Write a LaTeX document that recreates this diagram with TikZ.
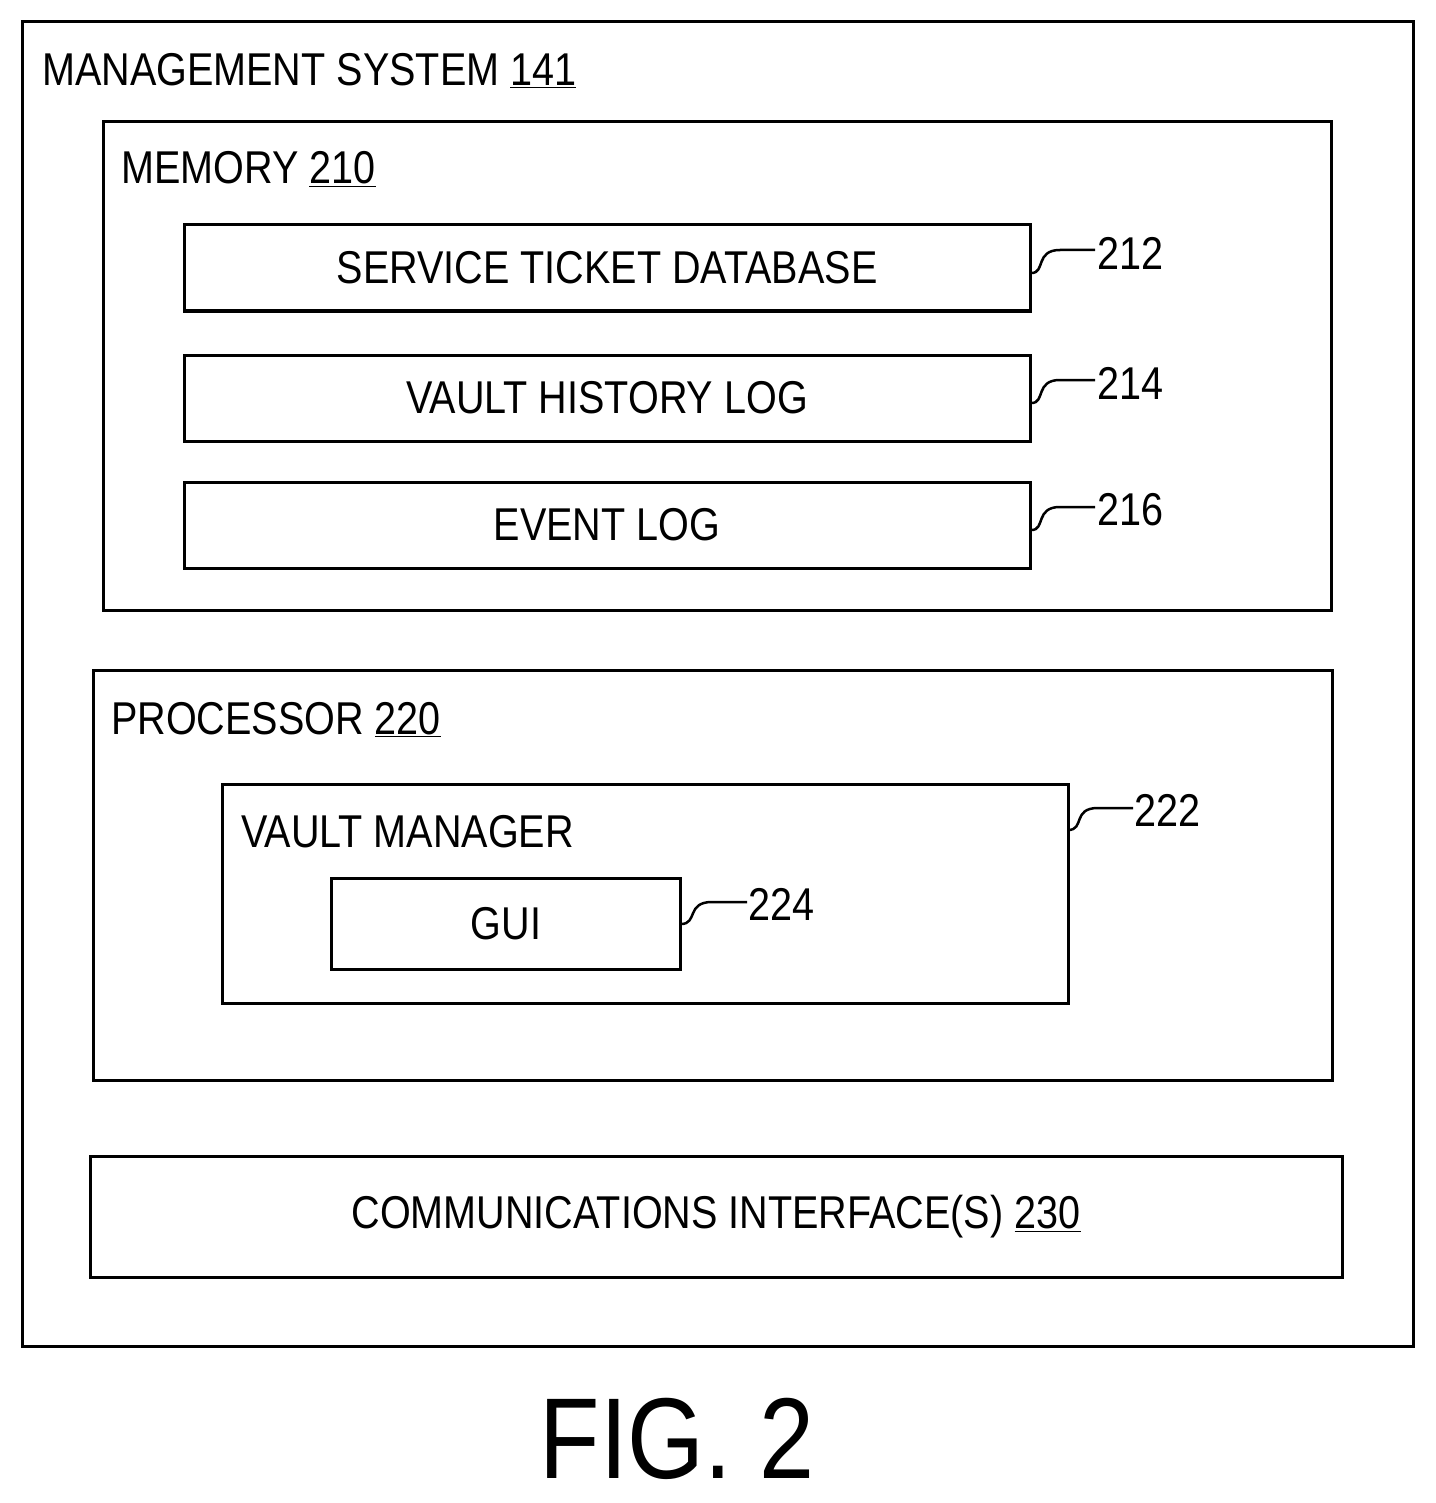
\documentclass[tikz,border=0pt]{standalone}
\usepackage{fontspec}
\setmainfont{Liberation Sans}[FakeStretch=0.86]
\begin{document}
\begin{tikzpicture}[x=1pt,y=-1pt,
  box/.style={draw,line width=3pt},
  lbl/.style={font=\fontsize{46}{50}\selectfont,inner sep=0pt},
  lead/.style={line width=2.5pt}]
\useasboundingbox (0,0) rectangle (1435,1503);
\draw[box] (22,22) rectangle (1413,1346);
\node[lbl,anchor=base west] (t141) at (42,86) {MANAGEMENT SYSTEM \underline{141}};
\draw[box] (103,122) rectangle (1331,610);
\node[lbl,anchor=base west] (t210) at (121,184) {MEMORY \underline{210}};
\node[box,minimum width=846pt,minimum height=86pt,lbl] (std) at (607,268) {SERVICE TICKET DATABASE};
\node[box,minimum width=846pt,minimum height=86pt,lbl] (vhl) at (607,398) {VAULT HISTORY LOG};
\node[box,minimum width=846pt,minimum height=86pt,lbl] (evl) at (607,525) {EVENT LOG};
\draw[box] (93,670) rectangle (1332,1080);
\node[lbl,anchor=base west] (t220) at (111,734) {PROCESSOR \underline{220}};
\node[box,minimum width=846pt,minimum height=219pt] (vm) at (645,894) {};
\node[lbl,anchor=base west] (tvm) at (241,847) {VAULT MANAGER};
\node[box,minimum width=349pt,minimum height=91pt,lbl] (gui) at (506,924) {GUI};
\node[box,minimum width=1252pt,minimum height=121pt,lbl] (ci) at (716,1217) {COMMUNICATIONS INTERFACE(S) \underline{230}};
\node[lbl,anchor=base,font=\fontsize{115}{120}\selectfont] (fig) at (677,1478) {FIG. 2};
% leaders
\foreach \n/\nm/\y in {std/212/268, vhl/214/398, evl/216/525}{
  \coordinate (c\nm) at (1095,\y-18);
  \draw[lead] (\n.east) ++(0,5) .. controls ++(14,0) and (1035,\y-18) .. (1060,\y-18) -- (c\nm);
  \node[lbl,anchor=west] (l\nm) at (1097,\y-15) {\nm};
}
\coordinate (c222) at (1133,808);
\draw[lead] (1068,830) .. controls (1085,830) and (1072,808) .. (1098,808) -- (c222);
\node[lbl,anchor=west] (l222) at (1134,810) {222};
\coordinate (c224) at (747,902);
\draw[lead] (681,924) .. controls (698,924) and (686,902) .. (712,902) -- (c224);
\node[lbl,anchor=west] (l224) at (748,904) {224};
\end{tikzpicture}
\end{document}
